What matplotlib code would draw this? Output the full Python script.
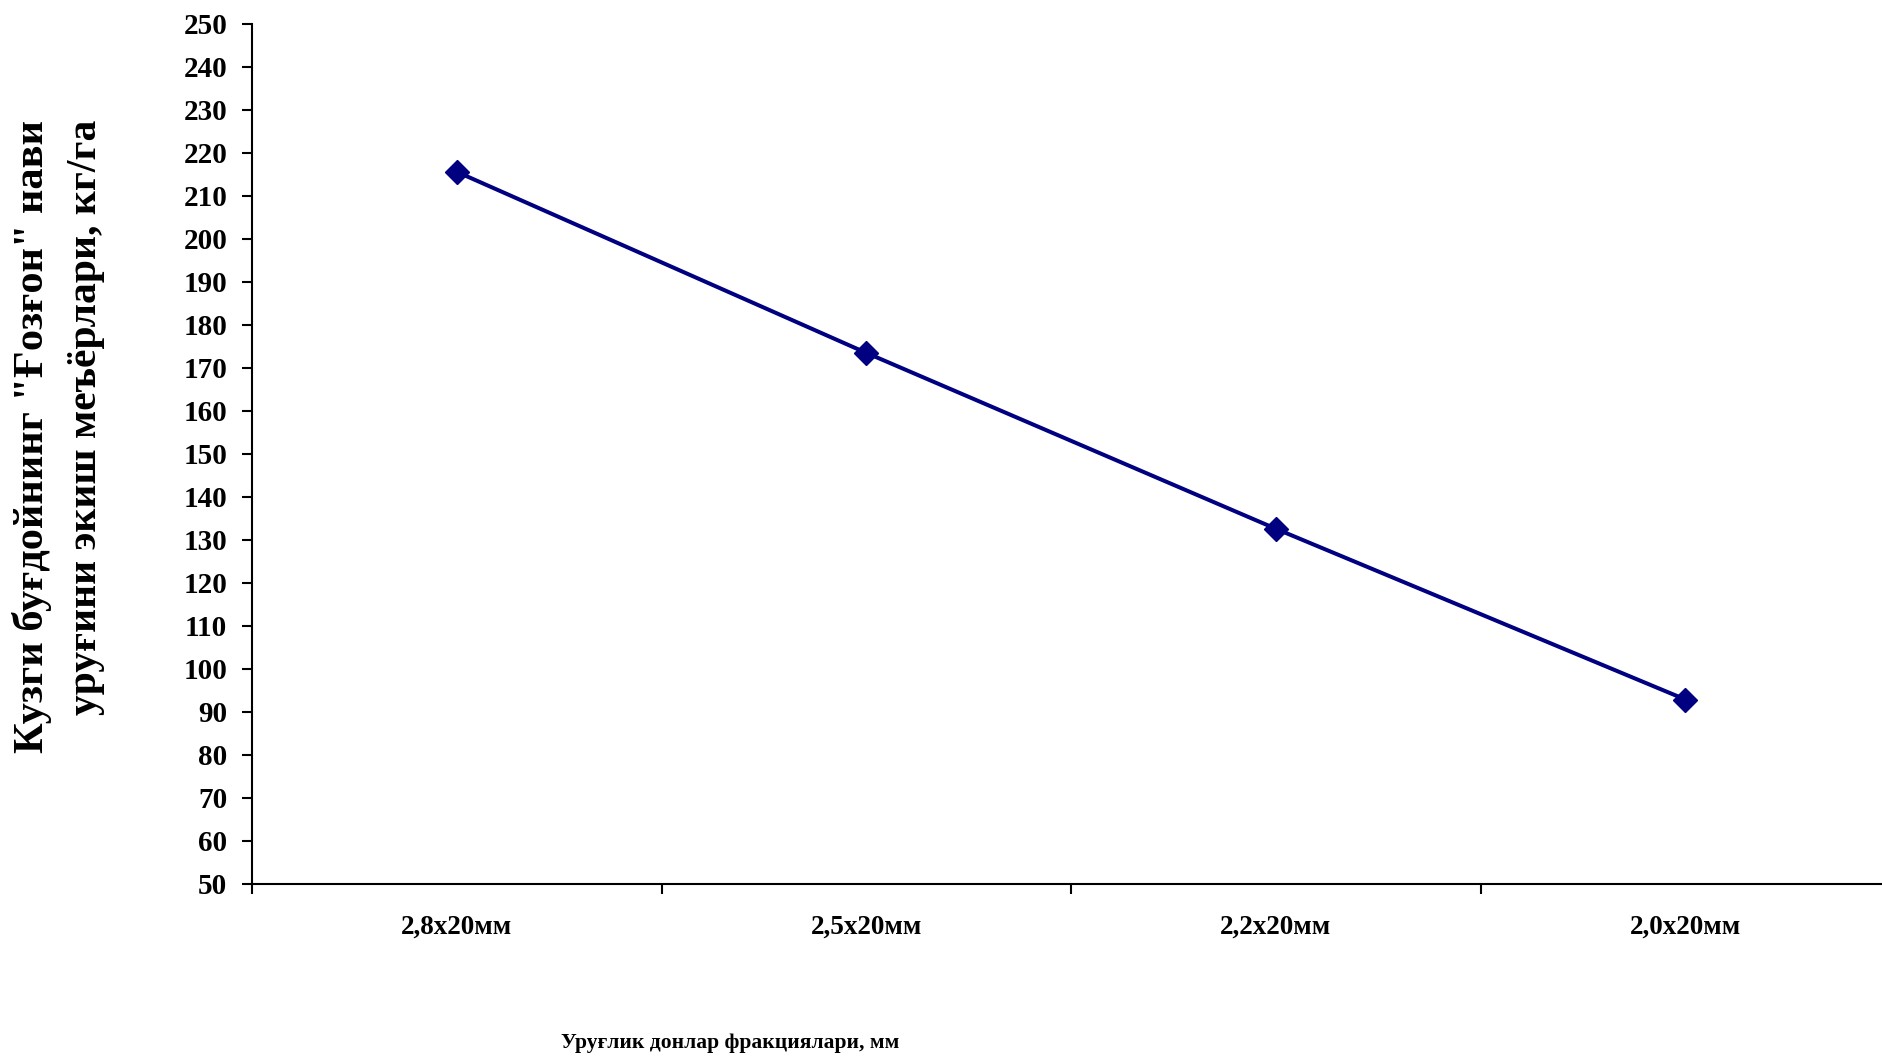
import numpy as np
import matplotlib
matplotlib.use("Agg")
import matplotlib.pyplot as plt
from matplotlib.ticker import MultipleLocator, FixedLocator, NullFormatter, FixedFormatter

# seed fraction sizes and sowing rates (kg/ha)
fractions = ["2,8x20мм", "2,5x20мм", "2,2x20мм", "2,0x20мм"]
seed_rate = [215.6, 173.5, 132.6, 92.9]

y_label_1 = 'Кузги буғдойнинг "Ғозғон" нави'
y_label_2 = "уруғини экиш меъёрлари, кг/га"
x_label = "Уруғлик донлар фракциялари, мм"

plt.rcParams["font.family"] = ["Liberation Serif", "DejaVu Serif"]
plt.rcParams["font.weight"] = "bold"

fig = plt.figure(figsize=(18.83, 10.56), dpi=100)
ax = fig.add_axes([0.1339, 0.1629, 1.0038 - 0.1339, 0.9773 - 0.1629])

xpos = np.arange(len(fractions)) + 0.5
ax.plot(xpos, seed_rate, color="#000080", lw=2.9, marker="D", ms=12,
        markerfacecolor="#000080", markeredgecolor="#000080", clip_on=False)

ax.set_xlim(0, len(fractions))
ax.set_ylim(50, 250)
ax.yaxis.set_major_locator(MultipleLocator(10))

# category boundaries carry the ticks, labels sit in the middle
ax.xaxis.set_major_locator(FixedLocator(np.arange(len(fractions) + 1)))
ax.xaxis.set_major_formatter(NullFormatter())
ax.xaxis.set_minor_locator(FixedLocator(xpos))
ax.xaxis.set_minor_formatter(FixedFormatter(fractions))
ax.tick_params(axis="x", which="major", direction="out", length=7, width=1.5)
ax.tick_params(axis="x", which="minor", length=0, pad=22, labelsize=19.5)
ax.tick_params(axis="y", direction="out", length=7, width=1.5, pad=11, labelsize=21)
for lab in ax.get_xticklabels(minor=True) + ax.get_yticklabels():
    lab.set_fontweight("bold")

for side in ["top", "right"]:
    ax.spines[side].set_visible(False)
for side in ["left", "bottom"]:
    ax.spines[side].set_linewidth(1.5)

fig.text(730 / 1883, 1 - 1043 / 1056, x_label, ha="center", va="center",
         fontsize=15.5, fontweight="bold")
fig.text(32 / 1883, 1 - 120 / 1056, y_label_1, rotation=90, ha="center", va="top",
         fontsize=30.5, fontweight="bold")
fig.text(86 / 1883, 1 - 120 / 1056, y_label_2, rotation=90, ha="center", va="top",
         fontsize=30, fontweight="bold")

fig.savefig("out.png", dpi=100)
